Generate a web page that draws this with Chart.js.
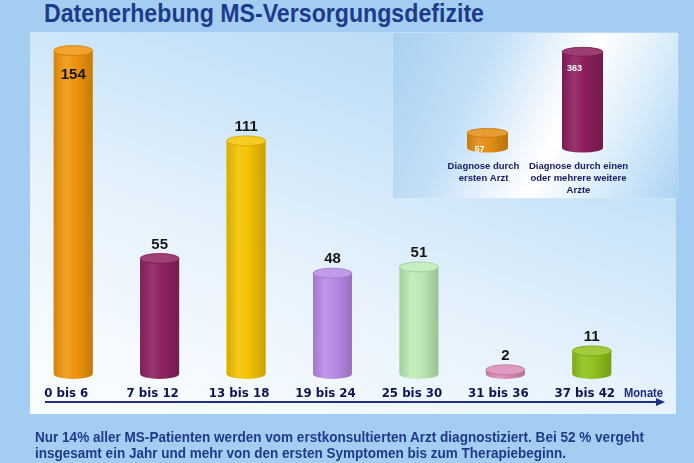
<!DOCTYPE html>
<html>
<head>
<meta charset="utf-8">
<script src="https://cdn.jsdelivr.net/npm/chart.js@4/dist/chart.umd.min.js"></script>
<style>
  html, body { margin: 0; padding: 0; }
  body { width: 694px; height: 463px; position: relative; overflow: hidden; background: #a3cef2; font-family: "Liberation Sans", Arial, sans-serif; }
  #title { position: absolute; left: 44px; top: 1px; font-weight: bold; font-size: 25px; line-height: 25px; color: #1d3b8d; white-space: nowrap; transform-origin: 0 0; }
  #panel { position: absolute; left: 30px; top: 32px; width: 646px; height: 382px;
    background: linear-gradient(200deg, #acd4f5 0%, #c6e2f8 30%, #e6f2fc 60%, #f5fafe 85%, #fafdff 100%); }
  #mainCanvas { position: absolute; left: 0; top: 0; }
  #insetPanel { position: absolute; left: 393px; top: 33px; width: 285px; height: 165px;
    background: linear-gradient(115deg, #a8d1f2 0%, #c4e0f7 30%, #f4f9fe 52%, #ffffff 58%, #d9ecfa 78%, #acd3f3 100%);
    box-shadow: 0 0 1px rgba(255,255,255,0.8); }
  #insetCanvas { position: absolute; left: 393px; top: 33px; }
  #monate { position: absolute; left: 624px; top: 386px; font-weight: bold; font-size: 12px; color: #1c2b7d; white-space: nowrap; transform-origin: 0 0; }
  .foot { position: absolute; left: 35px; font-weight: bold; font-size: 15px; line-height: 16px; color: #203a8a; white-space: nowrap; transform-origin: 0 0; }
  #foot1 { top: 429px; }
  #foot2 { top: 445px; }
</style>
</head>
<body>
<div id="title">Datenerhebung MS-Versorgungsdefizite</div>
<div id="panel"></div>
<canvas id="mainCanvas" width="694" height="463"></canvas>
<div id="insetPanel"></div>
<canvas id="insetCanvas" width="285" height="165"></canvas>
<div id="monate">Monate</div>
<div class="foot" id="foot1">Nur 14% aller MS-Patienten werden vom erstkonsultierten Arzt diagnostiziert. Bei 52 % vergeht</div>
<div class="foot" id="foot2">insgesamt ein Jahr und mehr von den ersten Symptomen bis zum Therapiebeginn.</div>
<script>
// ---- data ----
const categories = ["0 bis 6", "7 bis 12", "13 bis 18", "19 bis 24", "25 bis 30", "31 bis 36", "37 bis 42"];
const patients = [154, 55, 111, 48, 51, 2, 11];
const insetCategories = [["Diagnose durch", "ersten Arzt"], ["Diagnose durch einen", "oder mehrere weitere", "Arzte"]];
const insetValues = [57, 363];

// ---- styles ----
const barColors = ["#f0950c", "#8e2260", "#f5c300", "#b88ae6", "#bcebb6", "#d98ab6", "#8fc21c"];
const insetColors = ["#e38d12", "#8c1f5c"];

function mix(hex, target, t) {
  const n = parseInt(hex.slice(1), 16);
  const r = (n >> 16) & 255, g = (n >> 8) & 255, b = n & 255;
  const tr = target === 'w' ? 255 : 0;
  const f = c => Math.round(c + (tr - c) * t);
  return `rgb(${f(r)},${f(g)},${f(b)})`;
}

function fitWidth(id, w) {
  const el = document.getElementById(id);
  const nat = el.getBoundingClientRect().width;
  el.style.transform = `scaleX(${w / nat})`;
}
fitWidth('title', 440);
fitWidth('foot1', 609);
fitWidth('foot2', 531);
fitWidth('monate', 39);

function cylinderPlugin(opts) {
  return {
    id: 'cyl_' + opts.name,
    afterDatasetsDraw(chart) {
      const ctx = chart.ctx;
      const meta = chart.getDatasetMeta(0);
      const colors = chart.data.datasets[0].backgroundColor;
      const values = chart.data.datasets[0].data;
      meta.data.forEach((el, i) => {
        const p = el.getProps(['x', 'y', 'base', 'width'], true);
        const c = colors[i];
        const w = p.width, x0 = p.x - w / 2, rx = w / 2, ry = opts.ry;
        const g = ctx.createLinearGradient(x0, 0, x0 + w, 0);
        g.addColorStop(0, mix(c, 'b', 0.12));
        g.addColorStop(0.3, mix(c, 'w', 0.1));
        g.addColorStop(0.55, c);
        g.addColorStop(1, mix(c, 'b', 0.18));
        ctx.save();
        ctx.fillStyle = g;
        ctx.fillRect(x0, p.y, w, p.base - p.y);
        ctx.beginPath();
        ctx.ellipse(p.x, p.base, rx, ry, 0, 0, Math.PI);
        ctx.closePath();
        ctx.fill();
        ctx.beginPath();
        ctx.ellipse(p.x, p.y, rx, ry, 0, 0, Math.PI * 2);
        ctx.fillStyle = mix(c, 'w', 0.14);
        ctx.fill();
        ctx.strokeStyle = mix(c, 'b', 0.15);
        ctx.lineWidth = 0.8;
        ctx.stroke();
        ctx.font = opts.font;
        ctx.textAlign = 'center';
        ctx.textBaseline = 'alphabetic';
        if (opts.inside) {
          ctx.fillStyle = '#ffffff';
          ctx.fillText(String(values[i]), p.x - 8, p.y + 19);
        } else if (p.y - ry - 7 - 12 < chart.chartArea.top) {
          ctx.fillStyle = '#161616';
          ctx.fillText(String(values[i]), p.x, p.y + 28);
        } else {
          ctx.fillStyle = '#161616';
          ctx.fillText(String(values[i]), p.x, p.y - ry - 5);
        }
        ctx.restore();
      });
    }
  };
}

const arrowPlugin = {
  id: 'arrowAxis',
  afterDraw(chart) {
    const ctx = chart.ctx;
    const y = 402;
    ctx.save();
    ctx.strokeStyle = '#1f2f85';
    ctx.fillStyle = '#1f2f85';
    ctx.lineWidth = 2;
    ctx.beginPath();
    ctx.moveTo(45, y);
    ctx.lineTo(658, y);
    ctx.stroke();
    ctx.beginPath();
    ctx.moveTo(665, y);
    ctx.lineTo(656, y - 4);
    ctx.lineTo(656, y + 4);
    ctx.closePath();
    ctx.fill();
    ctx.restore();
  }
};

new Chart(document.getElementById('mainCanvas'), {
  type: 'bar',
  data: {
    labels: categories,
    datasets: [{
      data: patients,
      backgroundColor: barColors,
      borderWidth: 0,
      categoryPercentage: 1,
      barPercentage: 0.45
    }]
  },
  options: {
    responsive: false,
    animation: false,
    layout: { padding: { left: 30, right: 59, top: 38, bottom: 59 } },
    plugins: { legend: { display: false }, tooltip: { enabled: false } },
    scales: {
      y: { display: false, min: 0, max: 160 },
      x: {
        grid: { display: false, drawTicks: false },
        border: { display: false },
        afterFit(s) { s.height = 30; },
        ticks: {
          padding: 13,
          labelOffset: -7,
          color: '#0e1652',
          font: { family: 'DejaVu Sans', weight: 'bold', size: 11.8 },
          maxRotation: 0, autoSkip: false
        }
      }
    }
  },
  plugins: [cylinderPlugin({ name: 'main', ry: 5, font: 'bold 15px "Liberation Sans", Arial' }), arrowPlugin]
});

new Chart(document.getElementById('insetCanvas'), {
  type: 'bar',
  data: {
    labels: insetCategories,
    datasets: [{
      data: insetValues,
      backgroundColor: insetColors,
      borderWidth: 0,
      categoryPercentage: 1,
      barPercentage: 0.43
    }]
  },
  options: {
    responsive: false,
    animation: false,
    layout: { padding: { left: 47, right: 48, top: 9, bottom: 0 } },
    plugins: { legend: { display: false }, tooltip: { enabled: false } },
    scales: {
      y: { display: false, min: 0, max: 400 },
      x: {
        grid: { display: false, drawTicks: false },
        border: { display: false },
        afterFit(s) { s.height = 50; },
        ticks: {
          padding: 12,
          labelOffset: -4,
          color: '#1a2063',
          font: { family: 'Liberation Sans', weight: 'bold', size: 9.5, lineHeight: 1.26 },
          maxRotation: 0, autoSkip: false
        }
      }
    }
  },
  plugins: [cylinderPlugin({ name: 'inset', ry: 4.5, inside: true, font: 'bold 9px "Liberation Sans", Arial' })]
});
</script>
</body>
</html>
